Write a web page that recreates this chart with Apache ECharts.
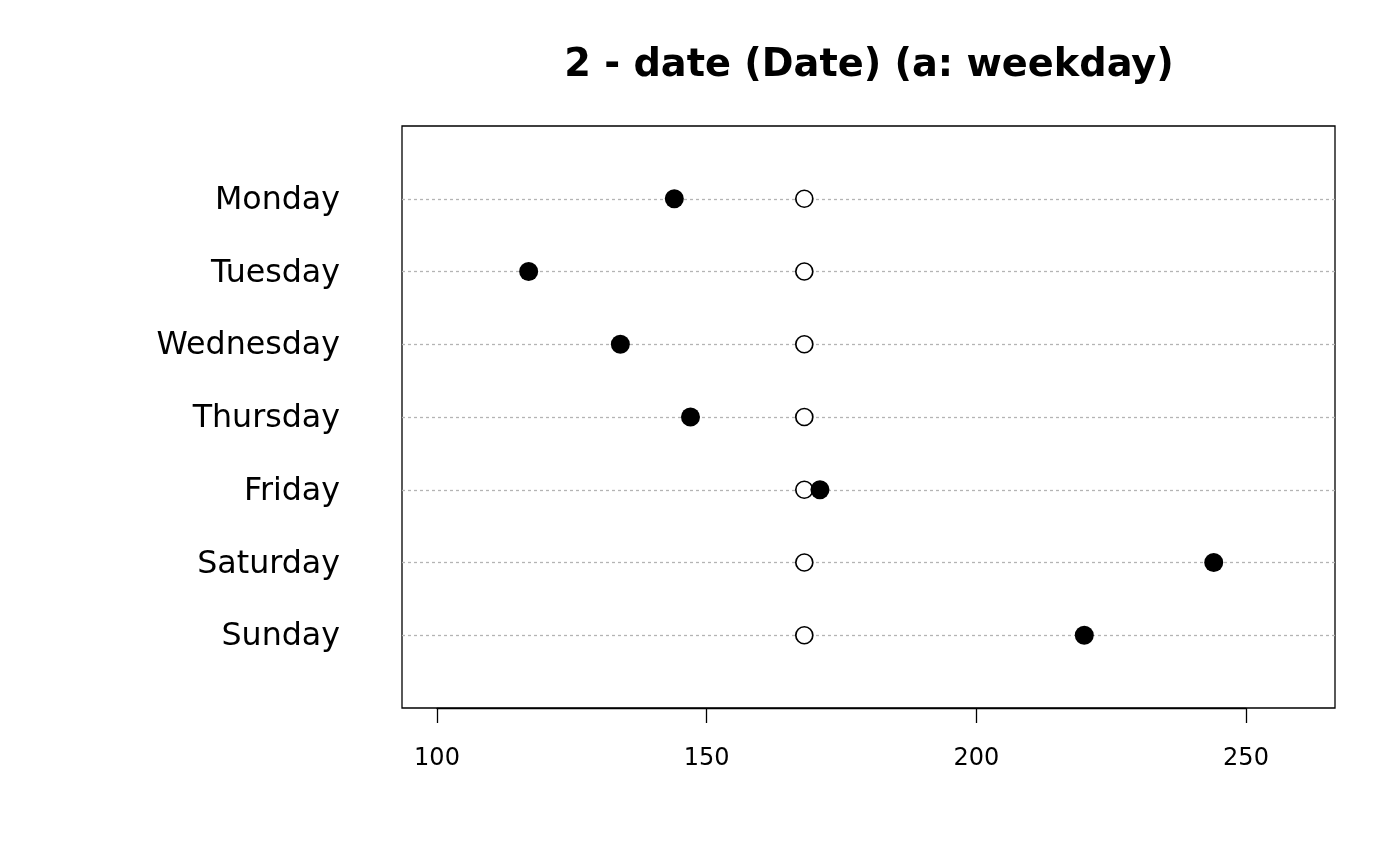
<!DOCTYPE html>
<html>
<head>
<meta charset="utf-8">
<script src="https://cdn.jsdelivr.net/npm/echarts@6/dist/echarts.min.js"></script>
<style>html,body{margin:0;padding:0;background:#fff;}#c{width:1400px;height:866px;}</style>
</head>
<body>
<div id="c"></div>
<script>
var categories = ['Monday', 'Tuesday', 'Wednesday', 'Thursday', 'Friday', 'Saturday', 'Sunday'];
var groupValues = [144, 117, 134, 147, 171, 244, 220];
var overallValues = [168.1, 168.1, 168.1, 168.1, 168.1, 168.1, 168.1];
var xTicks = [100, 150, 200, 250];
var titleText = '2 - date (Date) (a: weekday)';

var FONT = 'DejaVu Sans';
var chart = echarts.init(document.getElementById('c'), null, {renderer: 'canvas'});

function pts(vals) {
  return vals.map(function (v, i) { return [v, i + 1]; });
}
var splitColors = ['rgba(0,0,0,0)'];
for (var i = 0; i < categories.length; i++) splitColors.push('#b4b4b4');
splitColors.push('rgba(0,0,0,0)');

var option = {
  animation: false,
  backgroundColor: '#fff',
  title: {
    text: titleText,
    left: 864, top: 42, textAlign: 'center',
    textStyle: {fontFamily: FONT, fontSize: 38.3, fontWeight: 'bold', color: '#000'}
  },
  grid: [
    {left: 402, right: 65, top: 126, bottom: 158, show: true, borderColor: '#000', borderWidth: 1.3, backgroundColor: 'transparent'},
    {left: 437, width: 809, top: 126, bottom: 158, show: false}
  ],
  xAxis: [
    {gridIndex: 0, type: 'value', min: 93.52, max: 266.48, show: false},
    {gridIndex: 1, type: 'value', min: xTicks[0], max: xTicks[xTicks.length - 1], interval: 50,
     axisLine: {show: true, lineStyle: {color: '#000', width: 1.3}},
     axisTick: {show: true, length: 15, lineStyle: {color: '#000', width: 1.3}},
     splitLine: {show: false},
     axisLabel: {show: true, margin: 39, fontFamily: FONT, fontSize: 24, color: '#000'}}
  ],
  yAxis: [
    {gridIndex: 0, type: 'value', inverse: true, min: 0, max: categories.length + 1, interval: 1,
     axisLine: {show: false}, axisTick: {show: false},
     splitLine: {show: true, lineStyle: {color: splitColors, type: [3, 3], width: 1.3}},
     axisLabel: {show: true, margin: 62, fontFamily: FONT, fontSize: 31.7, color: '#000',
       verticalAlign: 'top', lineHeight: 4,
       formatter: function (v) { return categories[v - 1] || ''; }}},
    {gridIndex: 1, type: 'value', min: 0, max: 1, show: false}
  ],
  series: [
    {type: 'scatter', xAxisIndex: 0, yAxisIndex: 0, data: pts(overallValues), symbol: 'circle', symbolSize: 17,
     itemStyle: {color: '#fff', borderColor: '#000', borderWidth: 1.7, opacity: 1}, z: 3},
    {type: 'scatter', xAxisIndex: 0, yAxisIndex: 0, data: pts(groupValues), symbol: 'circle', symbolSize: 19,
     itemStyle: {color: '#000', opacity: 1}, z: 4}
  ]
};
chart.setOption(option);
</script>
</body>
</html>
